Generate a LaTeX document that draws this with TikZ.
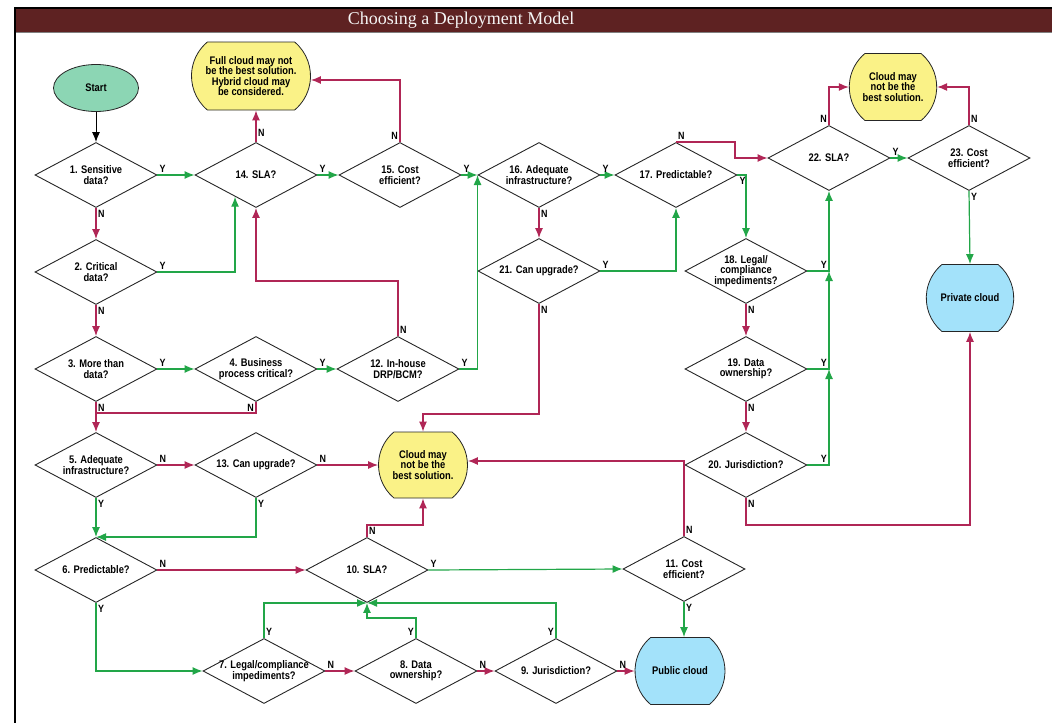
\documentclass[tikz,border=0pt]{standalone}
\usepackage{fontspec}
\usepackage{tikz}
\usetikzlibrary{shapes,arrows.meta}
\newfontfamily\flowfont[FakeStretch=0.85]{Liberation Sans}
\newfontfamily\titlefont{Liberation Serif}
\definecolor{nored}{RGB}{176,38,86}
\definecolor{yesgreen}{RGB}{34,166,72}
\definecolor{barred}{RGB}{94,34,34}
\definecolor{warnyellow}{RGB}{250,242,135}
\definecolor{cloudblue}{RGB}{163,226,250}
\definecolor{startgreen}{RGB}{140,214,180}

\begin{document}
\begin{tikzpicture}[x=1pt, y=-1pt, >={Latex[length=10pt,width=8pt]},
    decision/.style={diamond, draw=black!85, line width=0.9pt, minimum width=122pt, minimum height=65pt,
        inner xsep=-16pt, inner ysep=-1pt, shape aspect=1.9, align=center,
        font=\flowfont\bfseries\fontsize{11}{10.5}\selectfont},
    outcome/.style={rounded rectangle, rounded rectangle arc length=100, draw=black!85, line width=0.8pt,
        minimum width=92pt, minimum height=67pt, inner xsep=2pt, align=center,
        font=\flowfont\bfseries\fontsize{11}{10.5}\selectfont},
    yes/.style={draw=yesgreen, line width=1.2pt, ->},
    no/.style={draw=nored, line width=1.2pt, ->},
    yn/.style={font=\flowfont\bfseries\fontsize{10.5}{10.5}\selectfont, inner sep=1.5pt}]
        \useasboundingbox (0,0) rectangle (1052,723);

        % Frame and title bar
        \fill[barred] (15,8) rectangle (1052,32);
        \draw[gray, line width=0.6pt] (15,32) -- (1052,32);
        \draw[line width=1.2pt] (1052,8) -- (15,8) -- (15,723);
        \node[text=white!92!gray, font=\titlefont\fontsize{18}{18}\selectfont] (title) at (461,20) {Choosing a Deployment Model};

        % Start and outcomes
        \node[ellipse, draw=black!85, line width=0.8pt, fill=startgreen, minimum width=85pt, minimum height=47pt,
            font=\flowfont\bfseries\fontsize{11}{10.5}\selectfont] (start) at (96,88) {Start};
        \node[outcome, fill=warnyellow, minimum width=123pt, minimum height=68pt] (full_cloud) at (251,76)
            {Full cloud may not\\be the best solution.\\Hybrid cloud may\\be considered.};
        \node[outcome, fill=warnyellow, minimum width=90pt] (top_cloud) at (893,87) {Cloud may\\not be the\\best solution.};
        \node[outcome, fill=warnyellow, minimum width=93pt, minimum height=66pt] (no_cloud) at (423,465) {Cloud may\\not be the\\best solution.};
        \node[outcome, fill=cloudblue, minimum width=90pt] (private) at (970,298) {Private cloud};
        \node[outcome, fill=cloudblue, minimum width=94pt] (public) at (680,671) {Public cloud};

        % Questions
        \node[decision] (d1) at (96,175) {1. Sensitive\\data?};
        \node[decision] (d2) at (96,272) {2. Critical\\data?};
        \node[decision] (d3) at (96,369) {3. More than\\data?};
        \node[decision] (d4) at (256,369) {4. Business\\process critical?};
        \node[decision] (d5) at (96,465) {5. Adequate\\infrastructure?};
        \node[decision] (d6) at (96,570) {6. Predictable?};
        \node[decision] (d7) at (264,671) {7. Legal/compliance\\impediments?};
        \node[decision] (d8) at (416,671) {8. Data\\ownership?};
        \node[decision] (d9) at (556,671) {9. Jurisdiction?};
        \node[decision] (d10) at (367,570) {10. SLA?};
        \node[decision] (d11) at (684,569) {11. Cost\\efficient?};
        \node[decision] (d12) at (398,369) {12. In-house\\DRP/BCM?};
        \node[decision] (d13) at (256,465) {13. Can upgrade?};
        \node[decision] (d14) at (256,175) {14. SLA?};
        \node[decision] (d15) at (400,175) {15. Cost\\efficient?};
        \node[decision] (d16) at (539,175) {16. Adequate\\infrastructure?};
        \node[decision] (d17) at (676,175) {17. Predictable?};
        \node[decision] (d18) at (746,271) {18. Legal/\\compliance\\impediments?};
        \node[decision] (d19) at (746,369) {19. Data\\ownership?};
        \node[decision] (d20) at (746,465) {20. Jurisdiction?};
        \node[decision] (d21) at (539,271) {21. Can upgrade?};
        \node[decision] (d22) at (829,158) {22. SLA?};
        \node[decision] (d23) at (969,158) {23. Cost\\efficient?};

        \coordinate (j3) at (96,413);
        \coordinate (j10) at (367,618);
        \coordinate (j18) at (d18.east -| d22.south);
        \coordinate (j19) at (d19.east -| d22.south);

        % Left column
        \draw[->, line width=1pt] (start) -- (d1);
        \draw[no] (d1.south) node[yn, anchor=north west] {N} -- (d2.north);
        \draw[yes] (d1.east) node[yn, anchor=south west] {Y} -- (d14.west);
        \draw[no] (d2.south) node[yn, anchor=north west] {N} -- (d3.north);
        \draw[yes] (d2.east) node[yn, anchor=south west] {Y} -| (d14.226);
        \draw[yes] (d3.east) node[yn, anchor=south west] {Y} -- (d4.west);
        \draw[no] (d3.south) node[yn, anchor=north west] {N} -- (d5.north);
        \draw[no, -] (d4.south) node[yn, anchor=north east] {N} |- (j3);
        \draw[yes] (d4.east) node[yn, anchor=south west] {Y} -- (d12.west);
        \draw[no] (d12.north) node[yn, anchor=south west] {N} -- ++(0,-55) -| (d14.south);
        \draw[yes] (d12.east) node[yn, anchor=south west] {Y} -| (d16.west);
        \draw[no] (d5.east) node[yn, anchor=south west] {N} -- (d13.west);
        \draw[yes] (d5.south) node[yn, anchor=north west] {Y} -- (d6.north);
        \draw[no] (d13.east) node[yn, anchor=south west] {N} -- (no_cloud.west);
        \draw[yes] (d13.south) node[yn, anchor=north west] {Y} |- (d6.north);

        % Top row
        \draw[yes] (d14.east) node[yn, anchor=south west] {Y} -- (d15.west);
        \draw[no] (d14.north) node[yn, anchor=south west, yshift=3pt] {N} -- (d14.north |- full_cloud.south);
        \draw[no] (d15.north) node[yn, anchor=south east] {N} |- ([yshift=-4pt]full_cloud.east);
        \draw[yes] (d15.east) node[yn, anchor=south west] {Y} -- (d16.west);
        \draw[yes] (d16.east) node[yn, anchor=south west] {Y} -- (d17.west);
        \draw[no] (d16.south) node[yn, anchor=north west] {N} -- (d21.north);
        \draw[yes] (d21.east) node[yn, anchor=south west] {Y} -| (d17.south);
        \draw[no] (d21.south) node[yn, anchor=north west] {N} -- ++(0,110) -| (no_cloud.north);
        \draw[no] (d17.north) node[yn, anchor=south west] {N} -- ++(59,0) |- (d22.west);
        \draw[yes] (d17.east) node[yn, anchor=north west] {Y} -| (d18.north);
        \draw[yes] (d22.east) node[yn, anchor=south west] {Y} -- (d23.west);
        \draw[no] (d22.north) node[yn, anchor=south east] {N} |- (top_cloud.west);
        \draw[no] (d23.north) node[yn, anchor=south west] {N} |- (top_cloud.east);
        \draw[yes] (d23.south) node[yn, anchor=north west] {Y} -- (private.north);

        % Right column
        \draw[yes] (d18.east) -| node[yn, pos=0.5, anchor=south east] {Y} (d22.south);
        \draw[no] (d18.south) node[yn, anchor=north west] {N} -- (d19.north);
        \draw[yes] (d19.east) -| node[yn, pos=0.5, anchor=south east] {Y} (j18);
        \draw[no] (d19.south) node[yn, anchor=north west] {N} -- (d20.north);
        \draw[yes] (d20.east) -| node[yn, pos=0.5, anchor=south east] {Y} (j19);
        \draw[no] (d20.south) node[yn, anchor=north west] {N} -- ++(0,27) -| (private.south);

        % Bottom rows
        \draw[no] (d6.east) node[yn, anchor=south west] {N} -- (d10.west);
        \draw[yes] (d6.south) node[yn, anchor=north west] {Y} |- (d7.west);
        \draw[yes] (d7.north) node[yn, anchor=south west] {Y} |- (d10.south);
        \draw[no] (d7.east) node[yn, anchor=south west] {N} -- (d8.west);
        \draw[yes] (d8.north) node[yn, anchor=south east] {Y} |- (j10) -- (d10.south);
        \draw[no] (d8.east) node[yn, anchor=south west] {N} -- (d9.west);
        \draw[yes] (d9.north) node[yn, anchor=south east] {Y} |- (d10.south);
        \draw[no] (d9.east) node[yn, anchor=south west] {N} -- (public.west);
        \draw[yes] (d10.east) node[yn, anchor=south west] {Y} -- (d11.west);
        \draw[no] (d10.north) node[yn, anchor=south west] {N} -- ++(0,-12) -| (no_cloud.south);
        \draw[no] (d11.north) node[yn, anchor=south west] {N} |- ([yshift=4pt]no_cloud.east);
        \draw[yes] (d11.south) node[yn, anchor=north west] {Y} -- (d11.south |- public.north);
\end{tikzpicture}
\end{document}
